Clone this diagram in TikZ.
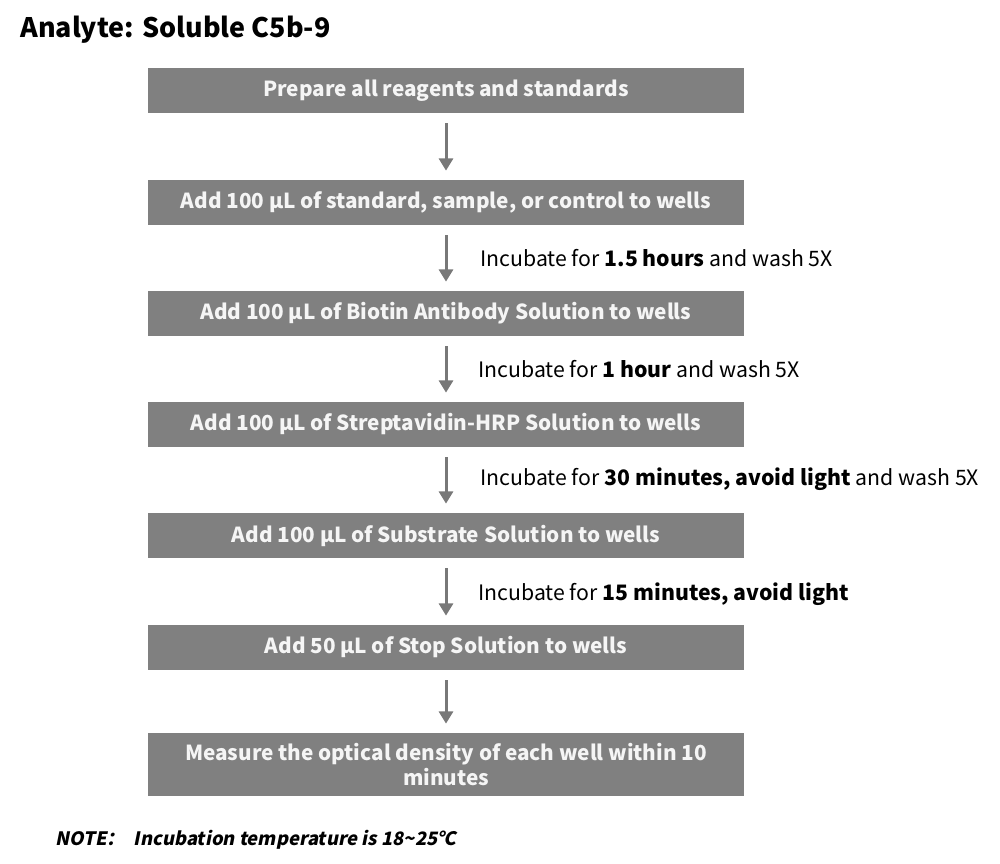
\documentclass[tikz,border=0pt]{standalone}
\usepackage{fontspec}
\setmainfont{Noto Sans CJK SC}
\newfontfamily\notefont[FakeSlant=0.2]{Noto Sans CJK SC}
\usetikzlibrary{arrows.meta}

\definecolor{boxgray}{RGB}{128,128,128}
\definecolor{arrgray}{RGB}{120,120,120}

\tikzset{
  stepbox/.style={minimum width=11.92cm, minimum height=0.9cm, fill=boxgray, text=white!96!black, font=\bfseries\fontsize{11.8}{14.5}\selectfont, inner sep=0pt, align=center},
  flow/.style={draw=arrgray, line width=1.7pt, -{Triangle[length=7pt, width=8pt]}, shorten <=0.2cm, shorten >=0.18cm},
  note/.style={anchor=west, font=\fontsize{12.1}{14}\selectfont, inner sep=0pt}
}

\begin{document}
\begin{tikzpicture}[x=0.02cm, y=-0.02cm]
\useasboundingbox (0,0) rectangle (1000,864);

\node (title) at (20, 30) [anchor=west, inner sep=0pt, font=\bfseries\fontsize{15.3}{18}\selectfont] {Analyte: Soluble C5b-9};

\node (A) at (446, 90.5) [stepbox] {Prepare all reagents and standards};
\node (B) at (446, 202.5) [stepbox] {Add 100 µL of standard, sample, or control to wells};
\node (C) at (446, 313.5) [stepbox] {Add 100 µL of Biotin Antibody Solution to wells};
\node (D) at (446, 424.5) [stepbox] {Add 100 µL of Streptavidin-HRP Solution to wells};
\node (E) at (446, 535.5) [stepbox] {Add 100 µL of Substrate Solution to wells};
\node (F) at (446, 647.5) [stepbox] {Add 50 µL of Stop Solution to wells};
\node (G) at (446, 764.5) [stepbox, minimum height=1.26cm] {Measure the optical density of each well within 10\\minutes};

\draw[flow] (A) -- (B);
\draw[flow] (B) -- (C);
\draw[flow] (C) -- (D);
\draw[flow] (D) -- (E);
\draw[flow] (E) -- (F);
\draw[flow] (F) -- (G);

\node (tB) at (480, 258) [note] {Incubate for \textbf{1.5 hours} and wash 5X};
\node (tC) at (478, 369) [note] {Incubate for \textbf{1 hour} and wash 5X};
\node (tD) at (480, 479) [note] {Incubate for \textbf{30 minutes, avoid light} and wash 5X};
\node (tE) at (478, 594) [note] {Incubate for \textbf{15 minutes, avoid light}};

\node (memo) at (55, 840) [anchor=west, inner sep=0pt, font=\notefont\bfseries\fontsize{10.5}{12}\selectfont] {NOTE：\ \ Incubation temperature is 18\textasciitilde25℃};
\end{tikzpicture}
\end{document}
